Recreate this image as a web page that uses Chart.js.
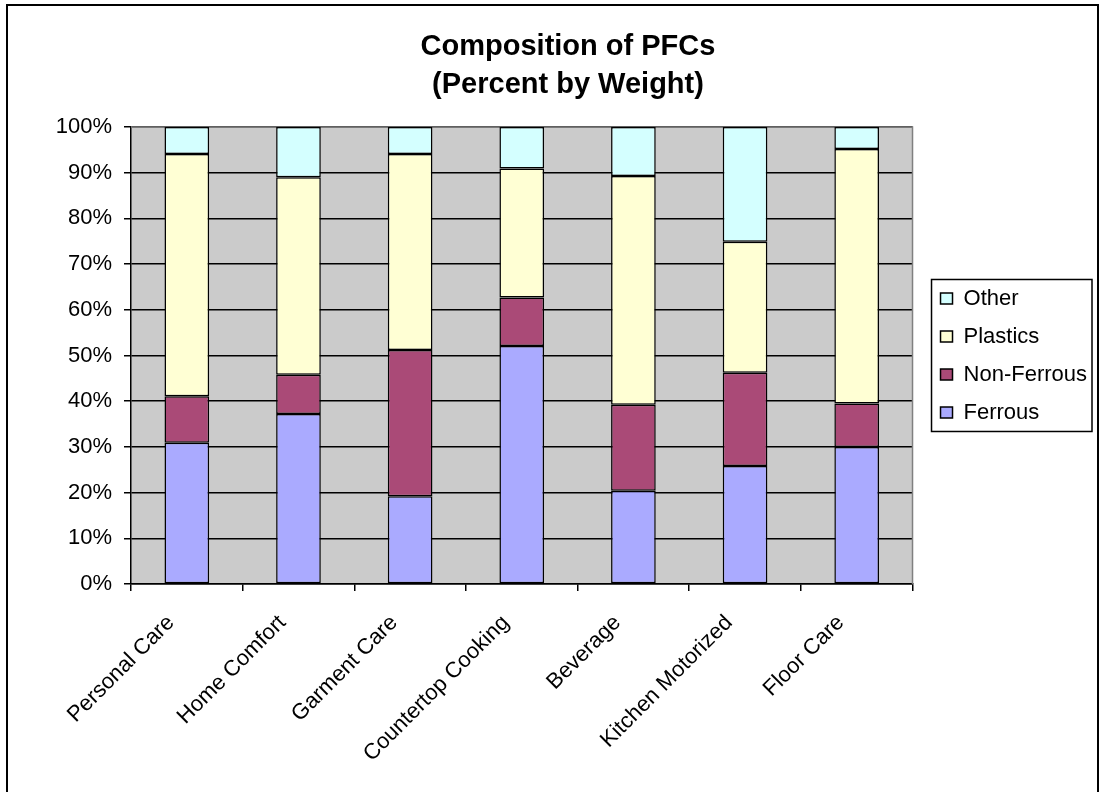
<!DOCTYPE html>
<html>
<head>
<meta charset="utf-8">
<title>Composition of PFCs</title>
<script src="https://cdn.jsdelivr.net/npm/chart.js@4.4.1/dist/chart.umd.min.js"></script>
<style>
  html, body { margin: 0; padding: 0; background: #fff; overflow: hidden; }
  #frame { position: absolute; left: 6px; top: 4px; width: 1089px; height: 820px; border: 2px solid #000; border-bottom: none; pointer-events: none; }
  #myChart { position: absolute; left: 0; top: 0; }
</style>
</head>
<body>
<div id="frame"></div>
<canvas id="myChart" width="1101" height="792"></canvas>
<script>
const categories = ['Personal Care', 'Home Comfort', 'Garment Care', 'Countertop Cooking', 'Beverage', 'Kitchen Motorized', 'Floor Care'];

// percent by weight
const ferrous    = [30.9, 37.2, 19.2, 52.1, 20.4, 25.8, 30.0];
const nonFerrous = [10.2,  8.6, 32.0, 10.6, 18.8, 20.4,  9.5];
const plastics   = [53.0, 43.2, 42.9, 28.2, 50.1, 28.7, 55.7];
const other      = [ 5.9, 11.0,  5.9,  9.1, 10.7, 25.1,  4.8];

const yMin = 0, yMax = 100, yStep = 10;

Chart.defaults.font.family = '"Liberation Sans", Arial, sans-serif';
Chart.defaults.color = '#000';

// grey plot area, grey top/right edge and the box round the legend
const plotFrame = {
  id: 'plotFrame',
  beforeDraw(chart) {
    const {ctx, chartArea: a} = chart;
    ctx.save();
    ctx.fillStyle = '#cbcbcb';
    ctx.fillRect(a.left, a.top, a.right - a.left, a.bottom - a.top);
    ctx.restore();
  },
  beforeDatasetsDraw(chart) {
    const {ctx, chartArea: a} = chart;
    ctx.save();
    ctx.strokeStyle = '#808080';
    ctx.lineWidth = 1.5;
    ctx.beginPath();
    ctx.moveTo(a.left, a.top);
    ctx.lineTo(a.right, a.top);
    ctx.lineTo(a.right, a.bottom);
    ctx.stroke();
    ctx.restore();
  },
  afterLayout(chart) {
    // push the legend a bit away from the plot
    chart.legend.left += 12;
    chart.legend.right += 12;
  },
  afterDraw(chart) {
    const lg = chart.legend;
    const pad = lg.options.labels.padding;
    const w = Math.max(...lg.legendHitBoxes.map(h => h.width));
    const mid = (lg.top + lg.bottom) / 2;
    const left = lg.left + pad - 9;
    const right = lg.left + pad + w + 5;
    const ctx = chart.ctx;
    ctx.save();
    ctx.strokeStyle = '#000';
    ctx.lineWidth = 1.5;
    ctx.strokeRect(left, mid - 76, right - left, 152);
    ctx.restore();
  }
};

const barStyle = {borderColor: '#000', borderWidth: 1.5, borderSkipped: false, barPercentage: 0.4, categoryPercentage: 1};

new Chart(document.getElementById('myChart'), {
  type: 'bar',
  data: {
    labels: categories,
    datasets: [
      {label: 'Ferrous', data: ferrous, backgroundColor: '#aaaaff', ...barStyle},
      {label: 'Non-Ferrous', data: nonFerrous, backgroundColor: '#aa4a77', ...barStyle},
      {label: 'Plastics', data: plastics, backgroundColor: '#ffffd4', ...barStyle},
      {label: 'Other', data: other, backgroundColor: '#d4ffff', ...barStyle}
    ]
  },
  plugins: [plotFrame],
  options: {
    responsive: false,
    animation: false,
    devicePixelRatio: 1,
    layout: {padding: {left: 51, right: 16, top: 0, bottom: 0}},
    plugins: {
      title: {
        display: true,
        text: ['Composition of PFCs', '(Percent by Weight)'],
        font: {size: 29, weight: 'bold', lineHeight: 1.31},
        color: '#000',
        padding: {top: 28, bottom: 23}
      },
      legend: {
        position: 'right',
        fullSize: false,
        reverse: true,
        labels: {boxWidth: 12, boxHeight: 11, padding: 16, font: {size: 22}, color: '#000'}
      },
      tooltip: {enabled: false}
    },
    scales: {
      x: {
        stacked: true,
        afterFit(scale) { scale.height = 208; },
        grid: {drawOnChartArea: false, drawTicks: true, tickLength: 7, color: '#000', lineWidth: 1.5},
        border: {color: '#000', width: 1.5},
        ticks: {autoSkip: false, maxRotation: 45, minRotation: 45, padding: 19, labelOffset: -16, font: {size: 22}, color: '#000'}
      },
      y: {
        stacked: true,
        min: yMin,
        max: yMax,
        afterFit(scale) { scale.width = 80; },
        grid: {color: '#000', lineWidth: 1.5, tickLength: 7},
        border: {color: '#000', width: 1.5},
        ticks: {stepSize: yStep, padding: 12, font: {size: 22}, color: '#000', callback: v => v + '%'}
      }
    }
  }
});
</script>
</body>
</html>
